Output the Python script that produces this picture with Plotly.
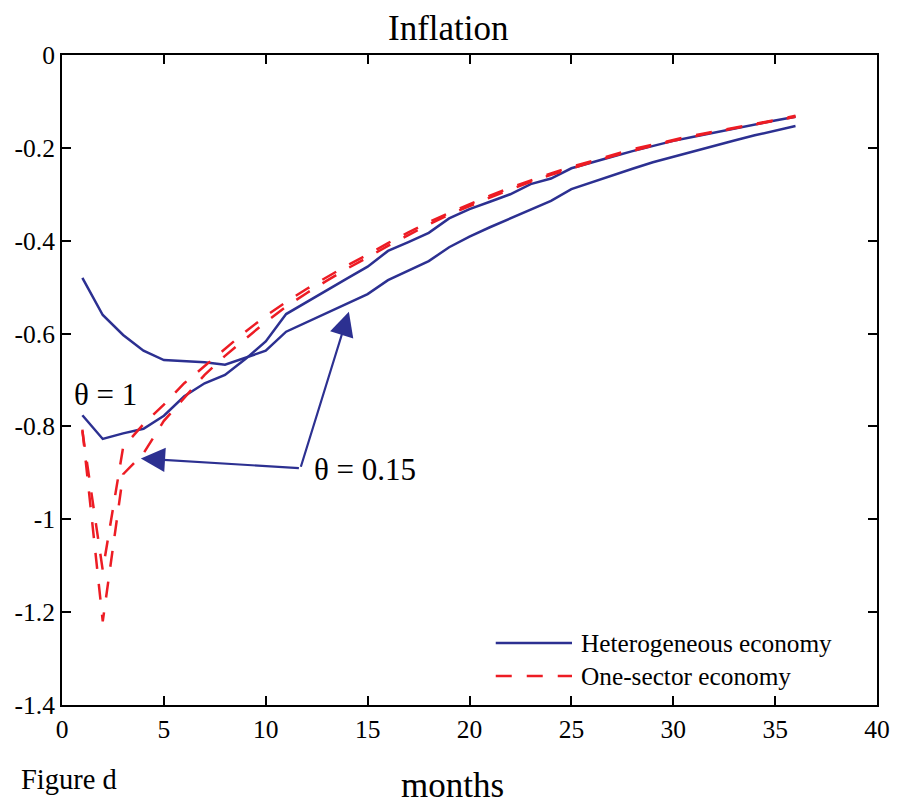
import plotly.graph_objects as go

# ---------------- data ----------------
months = list(range(1, 37))

het_theta015 = [-0.480, -0.560, -0.603, -0.637, -0.657, -0.659, -0.662, -0.667, -0.652, -0.637,
                -0.596, -0.576, -0.556, -0.536, -0.515, -0.485, -0.464, -0.444, -0.414, -0.391,
                -0.371, -0.352, -0.333, -0.314, -0.289, -0.274, -0.259, -0.245, -0.231, -0.219,
                -0.207, -0.195, -0.184, -0.173, -0.163, -0.153]

het_theta1 = [-0.776, -0.827, -0.815, -0.805, -0.777, -0.735, -0.707, -0.689, -0.655, -0.617,
              -0.558, -0.532, -0.507, -0.481, -0.456, -0.422, -0.403, -0.383, -0.352, -0.332,
              -0.316, -0.300, -0.278, -0.266, -0.244, -0.231, -0.219, -0.207, -0.196, -0.185,
              -0.176, -0.167, -0.158, -0.150, -0.141, -0.133]

one_theta015 = [-0.807, -1.220, -0.903, -0.858, -0.788, -0.738, -0.689, -0.648, -0.612, -0.575,
                -0.542, -0.513, -0.486, -0.460, -0.436, -0.411, -0.388, -0.365, -0.344, -0.325,
                -0.307, -0.290, -0.273, -0.258, -0.244, -0.231, -0.218, -0.206, -0.195, -0.185,
                -0.175, -0.166, -0.158, -0.150, -0.141, -0.133]

one_theta1 = [-0.810, -1.110, -0.845, -0.795, -0.753, -0.707, -0.670, -0.632, -0.596, -0.562,
              -0.532, -0.504, -0.478, -0.453, -0.430, -0.405, -0.382, -0.360, -0.340, -0.321,
              -0.303, -0.286, -0.270, -0.255, -0.241, -0.228, -0.215, -0.203, -0.193, -0.183,
              -0.173, -0.165, -0.157, -0.149, -0.140, -0.131]

x_ticks = [0, 5, 10, 15, 20, 25, 30, 35, 40]
y_ticks = [0, -0.2, -0.4, -0.6, -0.8, -1.0, -1.2, -1.4]
y_ticktext = ["0", "-0.2", "-0.4", "-0.6", "-0.8", "-1", "-1.2", "-1.4"]

legend_names = ["Heterogeneous economy", "One-sector economy"]

# annotation arrow points (data coordinates)
arrow_corner = (11.70, -0.890)
arrow_tip_left = (3.87, -0.869)
arrow_tip_up = (14.08, -0.553)

# ---------------- style ----------------
BLUE = "rgb(44,48,145)"
RED = "rgb(237,28,36)"
FONT = "Liberation Serif"
DASH = "16px,15px"

W, H = 902, 804
L, R, T, B = 62, 885, 55, 705


def px(xp):
    return (xp - L) / (R - L)


def py(yp):
    return (B - yp) / (B - T)


fig = go.Figure()

fig.add_trace(go.Scatter(x=months, y=het_theta015, mode="lines",
                         line=dict(color=BLUE, width=2.5), showlegend=False))
fig.add_trace(go.Scatter(x=months, y=het_theta1, mode="lines",
                         line=dict(color=BLUE, width=2.5), showlegend=False))
fig.add_trace(go.Scatter(x=months, y=one_theta015, mode="lines",
                         line=dict(color=RED, width=2.5, dash=DASH), showlegend=False))
fig.add_trace(go.Scatter(x=months, y=one_theta1, mode="lines",
                         line=dict(color=RED, width=2.5, dash=DASH), showlegend=False))

# arrows
fig.add_annotation(x=arrow_tip_left[0], y=arrow_tip_left[1], ax=arrow_corner[0], ay=arrow_corner[1],
                   xref="x", yref="y", axref="x", ayref="y", text="", showarrow=True,
                   arrowhead=2, arrowsize=2.2, arrowwidth=2.2, arrowcolor=BLUE)
fig.add_annotation(x=arrow_tip_up[0], y=arrow_tip_up[1], ax=arrow_corner[0], ay=arrow_corner[1],
                   xref="x", yref="y", axref="x", ayref="y", text="", showarrow=True,
                   arrowhead=2, arrowsize=2.2, arrowwidth=2.2, arrowcolor=BLUE)

# theta labels
fig.add_annotation(x=px(72), y=py(395), xref="paper", yref="paper", text="θ = 1",
                   showarrow=False, xanchor="left", yanchor="middle",
                   font=dict(family=FONT, size=31, color="black"))
fig.add_annotation(x=px(314), y=py(470), xref="paper", yref="paper", text="θ = 0.15",
                   showarrow=False, xanchor="left", yanchor="middle",
                   font=dict(family=FONT, size=31, color="black"))

# manual legend
legend_rows = [643, 676]
legend_styles = [dict(color=BLUE, width=2.5), dict(color=RED, width=2.5, dash=DASH)]
for name, yrow, st in zip(legend_names, legend_rows, legend_styles):
    fig.add_shape(type="line", xref="paper", yref="paper",
                  x0=px(500), x1=px(577), y0=py(yrow), y1=py(yrow), line=st)
    fig.add_annotation(x=px(584), y=py(yrow), xref="paper", yref="paper", text=name,
                       showarrow=False, xanchor="left", yanchor="middle",
                       font=dict(family=FONT, size=25.3, color="black"))

# title, axis title, figure label
fig.add_annotation(x=px(452), y=py(29), xref="paper", yref="paper", text="Inflation",
                   showarrow=False, xanchor="center", yanchor="middle",
                   font=dict(family=FONT, size=35, color="black"))
fig.add_annotation(x=px(456), y=py(785), xref="paper", yref="paper", text="months",
                   showarrow=False, xanchor="center", yanchor="middle",
                   font=dict(family=FONT, size=35, color="black"))
fig.add_annotation(x=px(19), y=py(779), xref="paper", yref="paper", text="Figure d",
                   showarrow=False, xanchor="left", yanchor="middle",
                   font=dict(family=FONT, size=28.5, color="black"))

axis_common = dict(showgrid=False, zeroline=False, showline=True, linecolor="black", linewidth=2,
                   mirror="ticks", ticks="inside", ticklen=9, tickwidth=1.5, tickcolor="black",
                   tickfont=dict(family=FONT, size=25.5, color="black"))

fig.update_layout(
    width=W, height=H,
    margin=dict(l=L, r=W - R, t=T, b=H - B),
    plot_bgcolor="white", paper_bgcolor="white",
    xaxis=dict(range=[0, 40], tickvals=x_ticks, ticktext=[str(v) for v in x_ticks], **axis_common),
    yaxis=dict(range=[-1.4, 0], tickvals=y_ticks, ticktext=y_ticktext, **axis_common),
    showlegend=False,
)

fig.write_html("out.html")
